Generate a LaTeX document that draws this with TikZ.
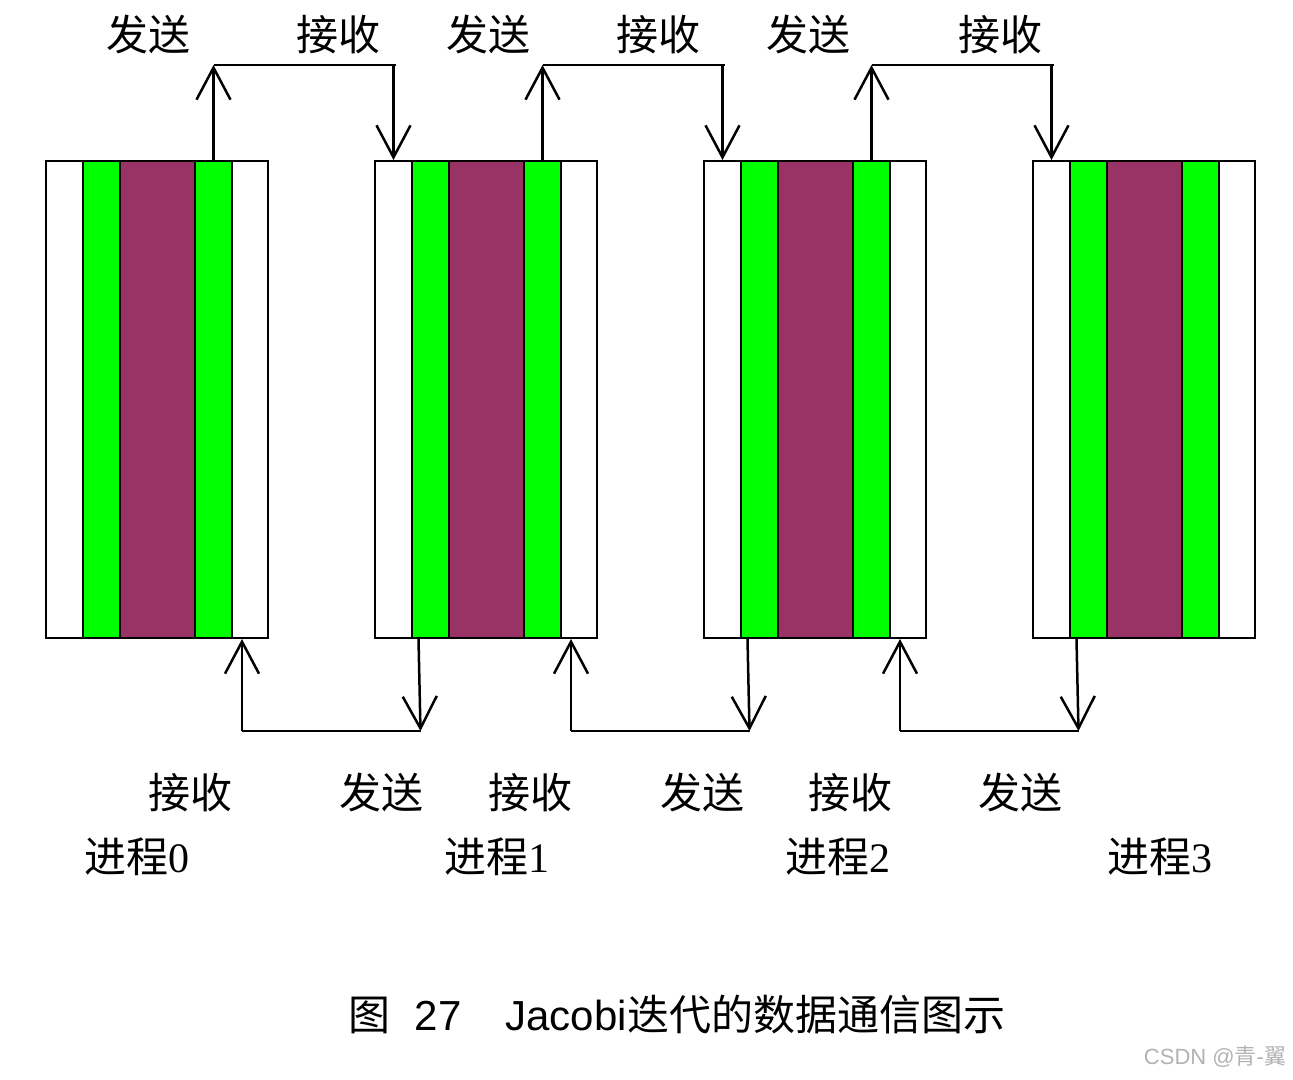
\documentclass[tikz,border=0pt]{standalone}
\usepackage{fontspec}
\setmainfont{Liberation Serif}
\newfontfamily\cjk{Noto Sans CJK SC}
\newfontfamily\arial{Liberation Sans}
\usetikzlibrary{arrows.meta}
\definecolor{halo}{HTML}{00FF00}
\definecolor{core}{HTML}{993366}
\begin{document}
\begin{tikzpicture}[
    x=1pt,y=-1pt,
    strip/.style={draw,line width=2pt,inner sep=0pt,minimum height=477pt,anchor=north west},
    wire/.style={line width=2.5pt},
    link/.style={wire,-{Straight Barb[length=32pt,width=34pt]}},
    font=\cjk\fontsize{42}{48}\selectfont
    ]
    \useasboundingbox (0,0) rectangle (1293,1079);

    % process blocks:
    \foreach \i/\x in {0/45,1/374,2/703,3/1032} {
      \node (w\i) at (\x,160) [strip,fill=white,minimum width=37pt] {};
      \node (g\i) at (\x+37,160) [strip,fill=halo,minimum width=37pt] {};
      \node (m\i) at (\x+74,160) [strip,fill=core,minimum width=75pt] {};
      \node (h\i) at (\x+149,160) [strip,fill=halo,minimum width=37pt] {};
      \node (v\i) at (\x+186,160) [strip,fill=white,minimum width=36pt] {};
    }

    % top exchange:
    \foreach \i/\j in {0/1,1/2,2/3} {
      \path (h\i.north) ++(0,-95) coordinate (su\i);
      \draw [link] (h\i.north) to (su\i);
      \draw [wire] (su\i) -- ([xshift=2pt]w\j.north |- su\i);
      \draw [link] (w\j.north |- su\i) to (w\j.north);
    }

    % bottom exchange:
    \foreach \i/\j in {0/1,1/2,2/3} {
      \path ([xshift=-8pt]v\i.south) ++(0,92) coordinate (ru\i);
      \draw [link] (ru\i) to ([xshift=-8pt]v\i.south);
      \draw [wire] (ru\i) -- ([xshift=-10pt]g\j.south |- ru\i) coordinate (rd\i);
      \draw [link] ([xshift=-12pt]g\j.south) to (rd\i);
    }

    % top text:
    \node (ts0) at (148,35) {发送};
    \node (tr0) at (338,35) {接收};
    \node (ts1) at (488,35) {发送};
    \node (tr1) at (658,35) {接收};
    \node (ts2) at (808,35) {发送};
    \node (tr2) at (1000,35) {接收};

    % bottom text:
    \node (br0) at (190,793) {接收};
    \node (bs0) at (381,793) {发送};
    \node (br1) at (530,793) {接收};
    \node (bs1) at (702,793) {发送};
    \node (br2) at (850,793) {接收};
    \node (bs2) at (1020,793) {发送};

    % process names:
    \foreach \i/\x in {0/137,1/497,2/838,3/1160}
      \node (n\i) at (\x,857) {进程{\rmfamily\i}};

    % caption:
    \node (cap) at (677,1015) [font=\arial\fontsize{42}{48}\selectfont]
      {{\cjk 图}\hspace{24pt}27\hspace{44pt}Jacobi{\cjk 迭代的数据通信图示}};
    \node (wm) at (1215,1057) [text=black!30,font=\arial\fontsize{22}{26}\selectfont]
      {CSDN @{\cjk 青}-{\cjk 翼}};

  \end{tikzpicture}
\end{document}
